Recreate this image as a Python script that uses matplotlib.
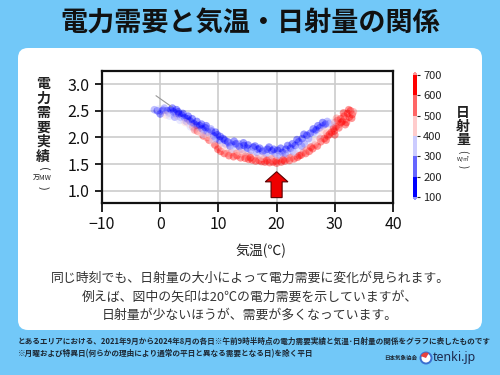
import matplotlib
matplotlib.use('Agg')
import matplotlib.pyplot as plt
from matplotlib.colors import ListedColormap, BoundaryNorm
from matplotlib.patches import FancyBboxPatch, FancyArrow, Circle, Wedge

plt.rcParams['font.family'] = ['Noto Sans CJK JP', 'DejaVu Sans']

# --- data: temperature (C), demand (x10^4 MW), solar (W/m2) ---
temp = [
    -1.0, -0.5, -0.3, 0.2, 0.5, 0.8, 1.2, 1.5, 1.8, 2.0, 2.3, 2.6, 2.8, 3.0, 3.2,
    3.5, 3.7, 4.0, 4.2, 4.5, 4.7, 5.0, 5.1, 5.4, 5.6, 5.8, 6.0, 6.2, 6.4, 6.6,
    6.8, 7.0, 7.2, 7.4, 7.6, 7.8, 8.0, 8.2, 8.4, 8.6, 8.8, 9.0, 9.2, 9.4, 9.6,
    9.8, 10.0, 10.2, 10.4, 10.6, 10.8, 11.0, 11.2, 11.4, 11.6, 11.8, 12.0, 12.2, 12.4, 12.6,
    12.8, 13.0, 13.2, 13.4, 13.6, 13.8, 14.0, 14.2, 14.4, 14.6, 14.8, 15.0, 15.2, 15.4, 15.6,
    15.8, 16.0, 16.2, 16.4, 16.6, 16.8, 17.0, 17.2, 17.4, 17.6, 17.8, 18.0, 18.2, 18.4, 18.6,
    18.8, 19.0, 19.2, 19.4, 19.6, 19.8, 20.0, 20.2, 20.4, 20.6, 20.8, 21.0, 21.2, 21.4, 21.6,
    21.8, 22.0, 22.2, 22.4, 22.6, 22.8, 23.0, 23.2, 23.4, 23.6, 23.8, 24.0, 24.2, 24.4, 24.6,
    24.8, 25.0, 25.2, 25.4, 25.6, 25.8, 26.0, 26.2, 26.4, 26.6, 26.8, 27.0, 27.2, 27.4, 27.6,
    27.8, 28.0, 28.2, 28.4, 28.6, 28.8, 29.0, 29.2, 29.4, 29.6, 29.8, 30.0, 30.2, 30.5, 30.8,
    31.0, 31.3, 31.6, 31.9, 32.2, 32.5, 32.7, 33.0, 32.0,
    0.0, 0.7, 1.0, 1.6, 2.1, 2.5, 3.1, 3.4, 3.9, 4.3, 4.8, 5.2, 5.5, 5.9, 6.3,
    6.7, 7.1, 7.5, 7.9, 8.3, 8.7, 9.1, 9.5, 9.9, 10.3, 10.7, 11.1, 11.5, 11.9, 12.3,
    12.7, 13.1, 13.5, 13.9, 14.3, 14.7, 15.1, 15.5, 15.9, 16.3, 16.7, 17.1, 17.5, 17.9, 18.3,
    18.7, 19.1, 19.5, 19.9, 20.3, 20.7, 21.1, 21.5, 21.9, 22.3, 22.7, 23.1, 23.5, 23.9, 24.3,
    24.7, 25.1, 25.5, 25.9, 26.3, 26.7, 27.1, 27.5, 27.9, 28.3, 28.7, 29.1, 29.5, 29.9, 30.3,
    30.7, 31.1, 31.5, 31.8, 32.4, 32.9, 33.2, 30.0, 28.5,
]
demand = [
    2.52, 2.50, 2.53, 2.49, 2.51, 2.47, 2.50, 2.46, 2.52, 2.43, 2.48, 2.45, 2.52, 2.40, 2.44,
    2.38, 2.42, 2.33, 2.37, 2.30, 2.35, 2.25, 2.31, 2.28, 2.20, 2.26, 2.16, 2.23, 2.12, 2.19,
    2.22, 2.08, 2.16, 2.03, 2.13, 2.18, 2.00, 2.10, 1.95, 2.06, 2.12, 1.90, 2.03, 1.86, 1.98,
    2.05, 1.82, 1.95, 1.74, 1.90, 1.98, 1.70, 1.88, 1.77, 1.92, 1.66, 1.84, 1.72, 1.86, 1.64,
    1.80, 1.88, 1.66, 1.75, 1.83, 1.62, 1.78, 1.69, 1.85, 1.61, 1.74, 1.80, 1.59, 1.66, 1.76,
    1.58, 1.82, 1.63, 1.56, 1.72, 1.78, 1.57, 1.66, 1.55, 1.74, 1.60, 1.54, 1.70, 1.78, 1.58,
    1.53, 1.66, 1.75, 1.54, 1.62, 1.70, 1.52, 1.76, 1.57, 1.67, 1.54, 1.72, 1.62, 1.56, 1.78,
    1.60, 1.68, 1.57, 1.80, 1.63, 1.74, 1.60, 1.85, 1.68, 1.63, 1.92, 1.78, 1.67, 1.98, 1.72,
    1.88, 1.70, 2.04, 1.80, 1.74, 2.08, 1.94, 1.79, 2.10, 1.86, 2.14, 1.84, 2.02, 2.18, 1.92,
    2.10, 2.22, 1.98, 2.25, 2.08, 2.03, 2.26, 2.15, 2.10, 2.22, 2.17, 2.28, 2.20, 2.32, 2.25,
    2.35, 2.30, 2.40, 2.34, 2.45, 2.38, 2.50, 2.43, 2.28,
    2.44, 2.55, 2.42, 2.40, 2.55, 2.38, 2.48, 2.32, 2.45, 2.28, 2.40, 2.20, 2.35, 2.14, 2.30,
    2.10, 2.25, 2.06, 2.22, 2.02, 2.16, 1.96, 2.10, 1.78, 2.02, 1.82, 1.95, 1.70, 1.90, 1.78,
    1.93, 1.70, 1.88, 1.72, 1.90, 1.65, 1.86, 1.62, 1.76, 1.84, 1.60, 1.80, 1.63, 1.76, 1.57,
    1.82, 1.60, 1.78, 1.56, 1.66, 1.80, 1.58, 1.70, 1.85, 1.62, 1.88, 1.72, 1.96, 1.66, 1.84,
    2.06, 1.76, 1.98, 1.82, 2.16, 1.94, 2.22, 1.98, 2.28, 2.12, 2.30, 2.06, 2.28, 2.12, 2.36,
    2.18, 2.28, 2.46, 2.24, 2.52, 2.36, 2.48, 2.05, 1.95,
]
solar = [
    250, 150, 350, 250, 150, 350, 150, 250, 150, 350, 150, 250, 150, 450, 150,
    250, 150, 350, 150, 250, 150, 450, 150, 250, 550, 150, 350, 150, 650, 250,
    150, 450, 150, 650, 250, 150, 550, 150, 650, 350, 150, 450, 150, 650, 250,
    150, 550, 150, 650, 350, 150, 650, 250, 450, 150, 650, 150, 550, 250, 650,
    350, 150, 650, 450, 150, 650, 250, 550, 150, 650, 350, 150, 650, 550, 250,
    650, 150, 450, 650, 250, 150, 650, 350, 650, 150, 550, 650, 250, 150, 550,
    650, 350, 150, 650, 450, 250, 650, 150, 550, 250, 650, 150, 450, 650, 150,
    550, 350, 650, 150, 550, 250, 650, 150, 450, 650, 150, 350, 650, 150, 550,
    250, 650, 150, 450, 650, 150, 350, 650, 250, 550, 150, 650, 350, 150, 650,
    450, 250, 650, 150, 550, 650, 250, 450, 650, 350, 650, 550, 650, 650, 550,
    650, 650, 650, 550, 650, 650, 650, 650, 650,
    150, 250, 450, 350, 150, 250, 150, 350, 150, 450, 150, 350, 150, 550, 150,
    450, 150, 350, 150, 450, 250, 350, 150, 650, 150, 450, 150, 550, 250, 350,
    150, 550, 250, 450, 150, 550, 150, 650, 350, 150, 550, 150, 450, 250, 650,
    150, 550, 150, 650, 350, 150, 650, 250, 150, 550, 150, 350, 150, 650, 250,
    150, 550, 250, 650, 150, 450, 150, 550, 150, 450, 250, 650, 350, 650, 550,
    650, 650, 650, 650, 650, 650, 550, 650, 650,
]

fit_t = [-0.7, 1.9]
fit_d = [2.78, 2.58]

x_ticks = [-10, 0, 10, 20, 30, 40]
y_ticks = [1.0, 1.5, 2.0, 2.5, 3.0]
levels = [100, 200, 300, 400, 500, 600, 700]
level_colors = ['#0000ff', '#6666ff', '#ccccff', '#ffcccc', '#ff6666', '#ff0000']

body_lines = [
    '同じ時刻でも、日射量の大小によって電力需要に変化が見られます。',
    '例えば、図中の矢印は20℃の電力需要を示していますが、',
    '日射量が少ないほうが、需要が多くなっています。',
]
note1 = ('とあるエリアにおける、2021年9月から2024年8月の各日※午前9時半時点の'
         '電力需要実績と気温･日射量の関係をグラフに表したものです')
note2 = '※月曜および特異日(何らかの理由により通常の平日と異なる需要となる日)を除く平日'

# --- figure + background (pixel coords) ---
fig = plt.figure(figsize=(5, 3.75), dpi=100)
fig.patch.set_facecolor('#72c8f8')

bg = fig.add_axes([0, 0, 1, 1])
bg.set_xlim(0, 500)
bg.set_ylim(375, 0)
bg.axis('off')
bg.add_patch(FancyBboxPatch((18, 48), 464, 282,
                            boxstyle='round,pad=0,rounding_size=10',
                            fc='white', ec='none'))

bg.text(250, 23, '電力需要と気温・日射量の関係', ha='center', va='center',
        fontsize=19.5, fontweight='bold', color='#111')

# vertical y label (parentheses turned sideways)
for i, ch in enumerate('電力需要実績'):
    bg.text(43, 84 + 14.5 * i, ch, ha='center', va='center',
            fontsize=10, fontweight='bold', color='#222')
bg.text(43, 169, '(', rotation=-90, ha='center', va='center', fontsize=8, color='#222')
bg.text(42, 178, '万MW', ha='center', va='center', fontsize=5, color='#222')
bg.text(43, 188, ')', rotation=-90, ha='center', va='center', fontsize=8, color='#222')

# vertical colorbar label
for i, ch in enumerate('日射量'):
    bg.text(463, 113 + 13.5 * i, ch, ha='center', va='center',
            fontsize=10, fontweight='bold', color='#222')
bg.text(463, 152, '(', rotation=-90, ha='center', va='center', fontsize=7, color='#222')
bg.text(463, 159.5, 'W/㎡', ha='center', va='center', fontsize=4, color='#222')
bg.text(463, 167, ')', rotation=-90, ha='center', va='center', fontsize=7, color='#222')

bg.text(261, 251, '気温(℃)', ha='center', va='center', fontsize=10, color='#222')

for i, line in enumerate(body_lines):
    bg.text(250, 278.5 + 18.5 * i, line, ha='center', va='center',
            fontsize=9.3, color='#333')

bg.text(18, 341, note1, ha='left', va='center', fontsize=5.5,
        fontweight='bold', color='#1c2733')
bg.text(18, 354, note2, ha='left', va='center', fontsize=5.5,
        fontweight='bold', color='#1c2733')

# logo
bg.text(417, 358, '日本気象協会', ha='right', va='center', fontsize=4,
        fontweight='bold', color='#1c2733')
bg.add_patch(Circle((426, 358), 5.5, fc='white', ec='#3a6fd0', lw=1.4))
bg.add_patch(Wedge((426, 358), 5.5, 200, 300, fc='#e8413c', ec='none'))
bg.text(433, 357.5, 'tenki.jp', ha='left', va='center', fontsize=9,
        fontweight='bold', color='#1d2b4f', family=['Noto Sans', 'DejaVu Sans'])

# --- scatter axes ---
cmap = ListedColormap(level_colors)
cmap.set_under(level_colors[0])
cmap.set_over(level_colors[-1])
norm = BoundaryNorm(levels, cmap.N)

ax = fig.add_axes([0.204, 0.4595, 0.582, 0.352])
ax.set_zorder(2)
ax.grid(True, color='#cccccc', lw=1.2)
ax.set_axisbelow(True)

sc = ax.scatter(temp, demand, c=solar, cmap=cmap, norm=norm,
                s=30, alpha=0.4, edgecolors='none', zorder=3)
ax.plot(fit_t, fit_d, color='#999999', lw=0.8, zorder=4)

ax.add_patch(FancyArrow(20, 0.875, 0, 0.485, width=1.9, head_width=3.9,
                        head_length=0.19, length_includes_head=True,
                        fc='#ee0000', ec='#5a0000', lw=0.8, zorder=5))

ax.set_xlim(-10, 40)
ax.set_ylim(0.78, 3.25)
ax.set_xticks(x_ticks)
ax.set_yticks(y_ticks)
ax.set_yticklabels([f'{v:.1f}' for v in y_ticks])
ax.set_xticklabels([str(v).replace('-', '\u2212') for v in x_ticks])
ax.tick_params(axis='both', direction='out', width=1.3, labelsize=11.5,
               colors='#111')
ax.tick_params(axis='x', length=6.5, pad=3)
ax.tick_params(axis='y', length=5, pad=4)
for spine in ax.spines.values():
    spine.set_linewidth(1.6)
    spine.set_color('#111')

# --- colorbar ---
cax = fig.add_axes([0.826, 0.4667, 0.008, 0.341])
cax.set_zorder(2)
cb = fig.colorbar(sc, cax=cax, extend='both', extendfrac=0.025, ticks=levels)
cb.solids.set_alpha(1)
cb.outline.set_visible(False)
cax.tick_params(labelsize=8, length=2.5, width=0.8, pad=2, colors='#222')

fig.savefig('out.png', dpi=100, facecolor=fig.get_facecolor())
